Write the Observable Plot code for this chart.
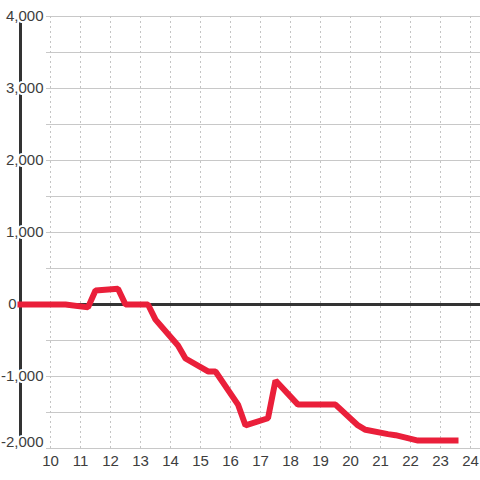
<!DOCTYPE html>
<html>
<head>
<meta charset="utf-8">
<script src="https://cdn.jsdelivr.net/npm/d3@7"></script>
<script src="https://cdn.jsdelivr.net/npm/@observablehq/plot@0.6"></script>
<style>
  html, body { margin: 0; padding: 0; background: #fff; }
  svg { display: block; }
</style>
</head>
<body>
<div id="chart"></div>
<script>
const hours  = [9, 10.5, 11.25, 11.5, 12.25, 12.5, 13.25, 13.5, 14.25, 14.5, 15.25, 15.5, 16.25, 16.5, 17.25, 17.5, 18.25, 19.5, 20.25, 20.5, 21.25, 21.5, 22.25, 23.5];
const values = [0, 0, -40, 195, 220, 0, 0, -210, -570, -750, -930, -930, -1390, -1680, -1580, -1055, -1390, -1390, -1680, -1740, -1800, -1815, -1890, -1890];
const xTicks = [10, 11, 12, 13, 14, 15, 16, 17, 18, 19, 20, 21, 22, 23, 24];
const yTicks = [-2000, -1000, 0, 1000, 2000, 3000, 4000];
const yGrid  = [-2000, -1500, -1000, -500, 0, 500, 1000, 1500, 2000, 2500, 3000, 3500, 4000];
const xDomain = [9, 24 + 1 / 3];
const yDomain = [-2000, 4000];

const data = hours.map((h, i) => ({h, v: values[i]}));
const fmt = d => d.toLocaleString("en-US");
const textColor = "#3d3d3d";
const yMid = yTicks.filter(d => d !== 0 && d !== yDomain[0]);

const chart = Plot.plot({
  width: 480,
  height: 480,
  marginLeft: 20,
  marginRight: 0,
  marginTop: 16,
  marginBottom: 32,
  style: {fontFamily: "'Liberation Sans', Arial, sans-serif", fontSize: "15px", background: "#fff"},
  x: {domain: xDomain, axis: null},
  y: {domain: yDomain, axis: null},
  marks: [
    Plot.ruleY(yGrid, {stroke: "#c8c8c8", strokeWidth: 1, insetLeft: 26}),
    Plot.ruleX(xTicks, {stroke: "#c4c4c4", strokeWidth: 1, strokeDasharray: "2,3"}),
    Plot.ruleX([xDomain[0]], {stroke: "#333", strokeWidth: 3}),
    Plot.ruleY([0], {stroke: "#333", strokeWidth: 3}),
    Plot.text(yMid, {
      y: d => d, frameAnchor: "left", dx: 23, textAnchor: "end", lineAnchor: "middle",
      text: fmt, fill: textColor, stroke: "white", strokeWidth: 4, fontSize: 15
    }),
    Plot.text([yDomain[0]], {
      y: d => d, frameAnchor: "left", dx: 23, dy: -6, textAnchor: "end", lineAnchor: "middle",
      text: fmt, fill: textColor, stroke: "white", strokeWidth: 4, fontSize: 15
    }),
    Plot.text(yTicks.filter(d => d === 0), {
      y: d => d, frameAnchor: "left", dx: -4, textAnchor: "end", lineAnchor: "middle",
      text: fmt, fill: textColor, fontSize: 15
    }),
    Plot.line(data, {
      x: "h", y: "v", stroke: "#ea1f3a", strokeWidth: 6,
      strokeLinecap: "square", strokeLinejoin: "miter"
    }),
    Plot.text(xTicks, {
      x: d => d, frameAnchor: "bottom", dy: 13, lineAnchor: "middle",
      text: d => String(d), fill: textColor, fontSize: 15
    })
  ]
});
document.getElementById("chart").appendChild(chart);
</script>
</body>
</html>
